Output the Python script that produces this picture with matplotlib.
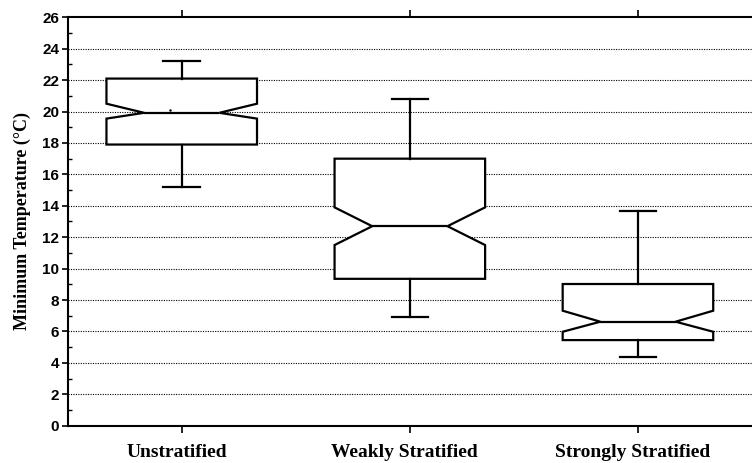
import matplotlib.pyplot as plt
import matplotlib.transforms as mtransforms
from matplotlib.ticker import MultipleLocator

# values
groups = ['Unstratified', 'Weakly Stratified', 'Strongly Stratified']
whislo = [15.2, 6.95, 4.35]
q1 = [17.9, 9.35, 5.45]
med = [19.92, 12.7, 6.62]
q3 = [22.1, 17.0, 9.02]
whishi = [23.2, 20.8, 13.7]
notch_lo = [19.55, 11.5, 5.98]
notch_hi = [20.5, 13.9, 7.32]
mean_first = 20.1

stats = []
for i in range(len(groups)):
    stats.append({'label': groups[i], 'whislo': whislo[i], 'q1': q1[i], 'med': med[i],
                  'q3': q3[i], 'whishi': whishi[i], 'cilo': notch_lo[i], 'cihi': notch_hi[i],
                  'fliers': []})

fig = plt.figure(figsize=(7.52, 4.63), dpi=100)
ax = fig.add_axes([0.09, 0.0806, 0.91, 0.882])

# dotted grid behind the boxes
for y in range(2, 26, 2):
    ax.axhline(y, color='black', linestyle=(0, (1, 1.2)), linewidth=0.8, zorder=0)

lw = 1.6
ax.bxp(stats, positions=[1, 2, 3], widths=0.66, shownotches=True, patch_artist=True,
       showfliers=False, capwidths=0.16,
       boxprops=dict(facecolor='white', edgecolor='black', linewidth=lw),
       medianprops=dict(color='black', linewidth=lw),
       whiskerprops=dict(color='black', linewidth=lw),
       capprops=dict(color='black', linewidth=lw), zorder=2)
# the small mean dot in the first box
ax.plot(1 - 0.05, mean_first, 'k.', markersize=1.5, zorder=3)

ax.set_xlim(0.5, 3.5)
ax.set_ylim(0, 26)
ax.yaxis.set_major_locator(MultipleLocator(2))
ax.yaxis.set_minor_locator(MultipleLocator(1))
ax.tick_params(axis='y', which='major', direction='out', length=4, width=1.2, pad=2)
ax.tick_params(axis='y', which='minor', direction='in', length=3, width=1)
ax.tick_params(axis='x', which='major', direction='out', length=5, width=1.2,
               top=True, pad=8)
for lab in ax.get_yticklabels():
    lab.set_fontfamily('Liberation Sans')
    lab.set_fontweight('bold')
    lab.set_fontsize(11)
ax.set_xticks([1, 2, 3])
ax.set_xticklabels(groups, fontfamily='Liberation Serif', fontweight='bold', fontsize=14)
# labels sit a few pixels left of the ticks in the original
shift = mtransforms.ScaledTranslation(-5 / 100, 0, fig.dpi_scale_trans)
for lab in ax.get_xticklabels():
    lab.set_transform(lab.get_transform() + shift)

ax.spines['right'].set_visible(False)
for s in ['left', 'bottom', 'top']:
    ax.spines[s].set_linewidth(1.5)

ax.set_ylabel('Minimum Temperature (°C)', fontfamily='Liberation Serif',
              fontweight='bold', fontsize=13, labelpad=8)

fig.savefig('out.png', dpi=100)
